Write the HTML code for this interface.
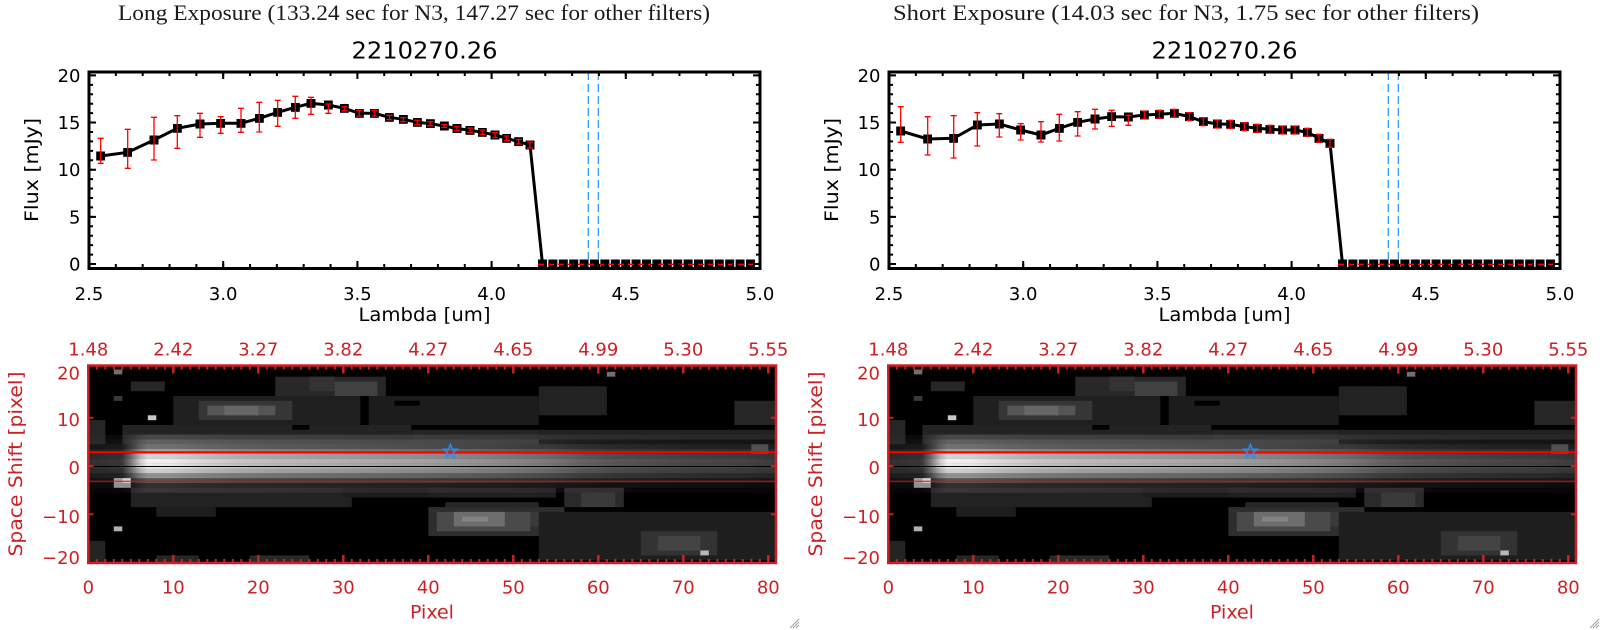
<!DOCTYPE html>
<html><head><meta charset="utf-8"><style>
html,body{margin:0;padding:0;background:#fff;}
svg{display:block;}
</style></head><body>
<svg width="1600" height="630" viewBox="0 0 1600 630" xmlns="http://www.w3.org/2000/svg" font-family="'DejaVu Sans','Liberation Sans',sans-serif">
<defs>
<marker id="sq" viewBox="0 0 9 9" markerWidth="9" markerHeight="9" refX="4.5" refY="4.5" markerUnits="userSpaceOnUse"><rect width="9" height="9" fill="#000"/></marker>
<clipPath id="hc"><rect x="88.3" y="365.5" width="687.7" height="197.5"/></clipPath>
<linearGradient id="cg" gradientUnits="userSpaceOnUse" x1="88.3" y1="0" x2="776.8" y2="0">
<stop offset="0" stop-color="#303030"/><stop offset=".049" stop-color="#383838"/><stop offset=".062" stop-color="#7a7a7a"/><stop offset=".074" stop-color="#c4c4c4"/><stop offset=".086" stop-color="#f2f2f2"/><stop offset=".123" stop-color="#ececec"/><stop offset=".16" stop-color="#dadada"/><stop offset=".21" stop-color="#c8c8c8"/><stop offset=".272" stop-color="#bdbdbd"/><stop offset=".37" stop-color="#b0b0b0"/><stop offset=".494" stop-color="#a0a0a0"/><stop offset=".593" stop-color="#8e8e8e"/><stop offset=".667" stop-color="#7a7a7a"/><stop offset=".716" stop-color="#646464"/><stop offset=".765" stop-color="#575757"/><stop offset=".864" stop-color="#4a4a4a"/><stop offset=".95" stop-color="#444444"/><stop offset="1" stop-color="#3c3c3c"/>
</linearGradient>

<g id="axT">
<g stroke="#000" fill="none">
<line x1="91" y1="265" x2="91" y2="74" stroke-width="4" stroke-dasharray="2 7.43"/>
<line x1="92.5" y1="265" x2="92.5" y2="74" stroke-width="7" stroke-dasharray="2 45.15"/>
<line x1="758" y1="265" x2="758" y2="74" stroke-width="4" stroke-dasharray="2 7.43"/>
<line x1="756.5" y1="265" x2="756.5" y2="74" stroke-width="7" stroke-dasharray="2 45.15"/>
<line x1="88" y1="266" x2="761" y2="266" stroke-width="4" stroke-dasharray="2 24.84"/>
<line x1="88" y1="264.5" x2="761" y2="264.5" stroke-width="7" stroke-dasharray="2 132.2"/>
<line x1="88" y1="74" x2="761" y2="74" stroke-width="4" stroke-dasharray="2 24.84"/>
<line x1="88" y1="75.5" x2="761" y2="75.5" stroke-width="7" stroke-dasharray="2 132.2"/>
<rect x="89" y="72" width="671" height="196.5" stroke-width="3"/>
</g>
</g>

<g id="hm">
<g clip-path="url(#hc)">
<rect x="88" y="365" width="689" height="199" fill="#000"/>
<rect x="122.3" y="425" width="289" height="19.3" fill="#232323"/>
<rect x="411.3" y="429.8" width="127.5" height="14.5" fill="#252525"/>
<rect x="173.3" y="396" width="187" height="29" fill="#1f1f1f"/>
<rect x="368.8" y="396" width="170" height="29" fill="#1c1c1c"/>
<rect x="292.3" y="425" width="17" height="4.83" fill="#000"/>
<rect x="394.3" y="400.8" width="25.5" height="4.83" fill="#000"/>
<rect x="275.3" y="376.7" width="110.5" height="19.3" fill="#282828"/>
<rect x="309.3" y="376.7" width="25.5" height="14.5" fill="#333"/>
<rect x="334.8" y="381.5" width="42.5" height="14.5" fill="#424242"/>
<rect x="198.8" y="400.8" width="93.5" height="19.3" fill="#363636"/>
<rect x="207.3" y="405.6" width="68" height="9.7" fill="#555"/>
<rect x="224.3" y="405.6" width="34" height="9.7" fill="#666"/>
<rect x="130.8" y="381.5" width="34" height="9.7" fill="#262626"/>
<rect x="88.3" y="420.1" width="17" height="24.2" fill="#262626"/>
<rect x="130.8" y="487.8" width="221" height="19.3" fill="#222"/>
<rect x="156.3" y="507.1" width="59.5" height="9.7" fill="#1e1e1e"/>
<rect x="343.3" y="487.8" width="110.5" height="9.7" fill="#1c1c1c"/>
<rect x="428.3" y="487.8" width="127.5" height="9.7" fill="#202020"/>
<rect x="445.3" y="502.2" width="93.5" height="4.9" fill="#262626"/>
<rect x="428.3" y="507.1" width="136" height="29" fill="#2e2e2e"/>
<rect x="521.8" y="511.9" width="51" height="14.5" fill="#3a3a3a"/>
<rect x="436.8" y="511.9" width="93.5" height="19.3" fill="#4a4a4a"/>
<rect x="453.8" y="511.9" width="51" height="14.5" fill="#6e6e6e"/>
<rect x="462.3" y="516.7" width="25.5" height="4.83" fill="#848484"/>
<rect x="564.3" y="487.8" width="59.5" height="19.3" fill="#2a2a2a"/>
<rect x="581.3" y="492.6" width="34" height="14.5" fill="#3a3a3a"/>
<rect x="538.8" y="511.9" width="237.5" height="48.3" fill="#1e1e1e"/>
<rect x="640.8" y="531.2" width="76.5" height="24.2" fill="#333"/>
<rect x="657.8" y="536.1" width="42.5" height="14.5" fill="#444"/>
<rect x="88.3" y="540.9" width="17" height="24" fill="#242424"/>
<rect x="156.3" y="555.4" width="42.5" height="9.7" fill="#262626"/>
<rect x="249.8" y="555.4" width="59.5" height="9.7" fill="#2a2a2a"/>
<rect x="538.8" y="386.3" width="68" height="29" fill="#222"/>
<rect x="734.3" y="400.8" width="42" height="24.2" fill="#262626"/>
<rect x="538.8" y="429.8" width="237.5" height="9.7" fill="#222"/>
<g fill="url(#cg)">
<rect x="88.3" y="434.6" width="688.5" height="4.9" fill-opacity=".18"/>
<rect x="88.3" y="439.5" width="688.5" height="4.9" fill-opacity=".3"/>
<rect x="88.3" y="444.3" width="688.5" height="4.9" fill-opacity=".47"/>
<rect x="88.3" y="449.1" width="688.5" height="4.9" fill-opacity=".68"/>
<rect x="88.3" y="454" width="688.5" height="4.9" fill-opacity=".88"/>
<rect x="88.3" y="458.8" width="688.5" height="4.9"/>
<rect x="88.3" y="463.6" width="688.5" height="4.9" fill-opacity=".97"/>
<rect x="88.3" y="468.4" width="688.5" height="4.9" fill-opacity=".85"/>
<rect x="88.3" y="473.3" width="688.5" height="4.9" fill-opacity=".6"/>
<rect x="88.3" y="478.1" width="688.5" height="4.9" fill-opacity=".35"/>
<rect x="88.3" y="482.9" width="688.5" height="4.9" fill-opacity=".2"/>
<rect x="88.3" y="487.8" width="688.5" height="4.9" fill-opacity=".1"/>
</g>
<rect x="113.8" y="369.5" width="8.5" height="4.9" fill="#707070"/>
<rect x="147.8" y="415.3" width="8.5" height="4.9" fill="#c8c8c8"/>
<rect x="113.8" y="478.1" width="8.5" height="4.9" fill="#a0a0a0"/>
<rect x="122.3" y="478.1" width="8.5" height="4.9" fill="#d0d0d0"/>
<rect x="113.8" y="482.9" width="17" height="4.9" fill="#909090"/>
<rect x="113.8" y="526.4" width="8.5" height="4.9" fill="#b0b0b0"/>
<rect x="606.8" y="371.8" width="8.5" height="4.9" fill="#707070"/>
<rect x="700.3" y="550.5" width="8.5" height="4.9" fill="#b8b8b8"/>
<rect x="113.8" y="396" width="8.5" height="4.9" fill="#3a3a3a"/>
<rect x="751.3" y="444.3" width="17" height="9.7" fill="#505050"/>
<line x1="88" y1="452.3" x2="777" y2="452.3" stroke="#ff0000" stroke-width="2"/>
<line x1="88" y1="466.5" x2="777" y2="466.5" stroke="#000" stroke-width="1"/>
<line x1="88" y1="481.2" x2="777" y2="481.2" stroke="#ff0000" stroke-width="1"/>
<polygon points="450.4,444.5 452.2,449.1 457.1,449.3 453.3,452.4 454.5,457.2 450.4,454.5 446.3,457.2 447.5,452.4 443.7,449.3 448.6,449.1" fill="none" stroke="#1e90ff" stroke-width="1.5"/>
</g>
<g stroke="#cd2026" fill="none">
<line x1="87.3" y1="367.5" x2="777" y2="367.5" stroke-width="4" stroke-dasharray="2 6.5"/>
<line x1="87.05" y1="369.5" x2="777" y2="369.5" stroke-width="8" stroke-dasharray="2.5 82.5"/>
<line x1="87.3" y1="561" x2="777" y2="561" stroke-width="4" stroke-dasharray="2 6.5"/>
<line x1="87.05" y1="559" x2="777" y2="559" stroke-width="8" stroke-dasharray="2.5 82.5"/>
<path d="M88.3 417.7h5M88.3 466h5M88.3 514.3h5M776 417.7h-5M776 466h-5M776 514.3h-5" stroke-width="2"/>
<rect x="88.3" y="365.5" width="687.7" height="197.5" stroke-width="2.5"/>
</g>
</g>

<g id="grip" stroke="#a0a0a0" stroke-width="1">
<path d="M799 619L790 628M799 622L793 628M799 625L796 628"/>
</g>
</defs>

<rect width="1600" height="630" fill="#fff"/>

<!-- ================= LEFT PANEL ================= -->
<g>
<text x="118" y="20" font-family="'Liberation Serif','DejaVu Serif',serif" font-size="22" fill="#1a1a1a" textLength="592" lengthAdjust="spacingAndGlyphs">Long Exposure (133.24 sec for N3, 147.27 sec for other filters)</text>
<text x="424.5" y="58.5" font-size="23.5" text-anchor="middle" textLength="146" lengthAdjust="spacingAndGlyphs">2210270.26</text>

<line x1="538" y1="264" x2="755" y2="264" stroke="#000" stroke-width="9" stroke-dasharray="9 1.4"/>
<polyline points="100.7,156 127.7,152.3 154,140 177.3,128.3 200,124 220.7,123.3 241,123.3 259.3,118.3 277.7,112.3 295.3,107.3 311,103.3 328.3,105 344.3,108.3 359.3,113.3 374.3,113.3 389.3,117.3 403.3,119.3 417.3,122.3 430.3,123.7 444.3,126 457,128.5 470,130.3 482.3,132.3 495,135 506.7,138.3 518.7,141.7 530,145 542.5,264" fill="none" stroke="#000" stroke-width="3" marker-start="url(#sq)" marker-mid="url(#sq)" marker-end="url(#sq)"/>
<path fill="none" stroke="#ff0000" stroke-width="1.3" d="M100.7 138.3V163.3M97.7 138.3h6M97.7 163.3h6M127.7 129.3V168.3M124.7 129.3h6M124.7 168.3h6M154 117.3V160M151 117.3h6M151 160h6M177.3 115.7V148.3M174.3 115.7h6M174.3 148.3h6M200 113.3V137.3M197 113.3h6M197 137.3h6M220.7 116.7V133.3M217.7 116.7h6M217.7 133.3h6M241 108.3V132.3M238 108.3h6M238 132.3h6M259.3 102.3V132M256.3 102.3h6M256.3 132h6M277.7 100.3V126.3M274.7 100.3h6M274.7 126.3h6M295.3 96.3V118.3M292.3 96.3h6M292.3 118.3h6M311 97.3V114.3M308 97.3h6M308 114.3h6M328.3 104V113.3M325.3 104h6M325.3 113.3h6M344.3 106.7V110.7M341.3 106.7h6M341.3 110.7h6M359.3 110.3V116M356.3 110.3h6M356.3 116h6M374.3 110.3V116M371.3 110.3h6M371.3 116h6M389.3 115.3V119.7M386.3 115.3h6M386.3 119.7h6M403.3 117.7V121.7M400.3 117.7h6M400.3 121.7h6M417.3 120.3V124.7M414.3 120.3h6M414.3 124.7h6M430.3 121.7V125.7M427.3 121.7h6M427.3 125.7h6M444.3 124.5V127.5M441.3 124.5h6M441.3 127.5h6M457 126.5V130.5M454 126.5h6M454 130.5h6M470 128V132.5M467 128h6M467 132.5h6M482.3 130V134.5M479.3 130h6M479.3 134.5h6M495 132.5V137.5M492 132.5h6M492 137.5h6M506.7 136V140.5M503.7 136h6M503.7 140.5h6M518.7 139.5V144M515.7 139.5h6M515.7 144h6M530 142V148M527 142h6M527 148h6"/>
<path d="M588.3 72V268M598.3 72V268" stroke="#1e90ff" stroke-width="1.2" stroke-dasharray="8 4" fill="none"/>
<line x1="538" y1="264.3" x2="759" y2="264.3" stroke="#ff0000" stroke-width="1.3" stroke-dasharray="6 4"/>
<use href="#axT"/>

<g font-size="18" fill="#000">
<g text-anchor="end">
<text x="80.5" y="82">20</text><text x="80.5" y="129">15</text><text x="80.5" y="176.2">10</text><text x="80.5" y="223.4">5</text><text x="80.5" y="270.5">0</text>
</g>
<g text-anchor="middle">
<text x="89" y="300">2.5</text><text x="223.2" y="300">3.0</text><text x="357.4" y="300">3.5</text><text x="491.6" y="300">4.0</text><text x="625.8" y="300">4.5</text><text x="760" y="300">5.0</text>
</g>
</g>
<text x="424.5" y="321" font-size="19" text-anchor="middle" textLength="132" lengthAdjust="spacingAndGlyphs">Lambda [um]</text>
<text transform="translate(38,170) rotate(-90)" font-size="19" text-anchor="middle" textLength="104" lengthAdjust="spacingAndGlyphs">Flux [mJy]</text>

<use href="#hm"/>
<g font-size="18" fill="#cd2026" text-anchor="middle">
<text x="88.3" y="355.5">1.48</text><text x="173.3" y="355.5">2.42</text><text x="258.3" y="355.5">3.27</text><text x="343.3" y="355.5">3.82</text><text x="428.3" y="355.5">4.27</text><text x="513.3" y="355.5">4.65</text><text x="598.3" y="355.5">4.99</text><text x="683.3" y="355.5">5.30</text><text x="768.3" y="355.5">5.55</text>
<text x="88.3" y="593.5">0</text><text x="173.3" y="593.5">10</text><text x="258.3" y="593.5">20</text><text x="343.3" y="593.5">30</text><text x="428.3" y="593.5">40</text><text x="513.3" y="593.5">50</text><text x="598.3" y="593.5">60</text><text x="683.3" y="593.5">70</text><text x="768.3" y="593.5">80</text>
</g>
<g font-size="18" fill="#cd2026" text-anchor="end">
<text x="80" y="379.5">20</text><text x="80" y="425.8">10</text><text x="80" y="474">0</text><text x="80" y="523">−10</text><text x="80" y="564">−20</text>
</g>
<text x="432" y="618.5" font-size="19" fill="#cd2026" text-anchor="middle">Pixel</text>
<text transform="translate(22,464) rotate(-90)" font-size="19" fill="#cd2026" text-anchor="middle" textLength="185" lengthAdjust="spacingAndGlyphs">Space Shift [pixel]</text>
<use href="#grip"/>
</g>

<!-- ================= RIGHT PANEL ================= -->
<g transform="translate(800,0)">
<text x="93" y="20" font-family="'Liberation Serif','DejaVu Serif',serif" font-size="22" fill="#1a1a1a" textLength="586" lengthAdjust="spacingAndGlyphs">Short Exposure (14.03 sec for N3, 1.75 sec for other filters)</text>
<text x="424.5" y="58.5" font-size="23.5" text-anchor="middle" textLength="146" lengthAdjust="spacingAndGlyphs">2210270.26</text>

<line x1="538" y1="264" x2="755" y2="264" stroke="#000" stroke-width="9" stroke-dasharray="9 1.4"/>
<polyline points="100.7,131 127.7,139 153.7,138.3 177.3,125 199.3,124 220.7,130 241,135 259.3,128.3 277.7,122.3 295,119 311.7,116.7 328.3,117 344.3,115 359.3,114.3 374.3,113.3 389.3,116.7 403.3,121.7 417.3,124 430.7,124.3 444.3,126.7 457.3,128.3 470,129.3 482.7,130 495,130 507.3,132.3 519,138.3 530,143.3 542.5,264" fill="none" stroke="#000" stroke-width="3" marker-start="url(#sq)" marker-mid="url(#sq)" marker-end="url(#sq)"/>
<path fill="none" stroke="#ff0000" stroke-width="1.3" d="M100.7 106.7V142.3M97.7 106.7h6M97.7 142.3h6M127.7 116.7V155M124.7 116.7h6M124.7 155h6M153.7 115.7V158M150.7 115.7h6M150.7 158h6M177.3 112.7V146M174.3 112.7h6M174.3 146h6M199.3 113.7V137M196.3 113.7h6M196.3 137h6M220.7 123.7V140M217.7 123.7h6M217.7 140h6M241 121.7V142M238 121.7h6M238 142h6M259.3 114.3V141M256.3 114.3h6M256.3 141h6M277.7 111.7V136M274.7 111.7h6M274.7 136h6M295 109.3V129M292 109.3h6M292 129h6M311.7 110.3V126.3M308.7 110.3h6M308.7 126.3h6M328.3 115.3V125.3M325.3 115.3h6M325.3 125.3h6M344.3 111V119M341.3 111h6M341.3 119h6M359.3 110.3V118.3M356.3 110.3h6M356.3 118.3h6M374.3 109.3V117.3M371.3 109.3h6M371.3 117.3h6M389.3 112.7V120.7M386.3 112.7h6M386.3 120.7h6M403.3 117.7V125.7M400.3 117.7h6M400.3 125.7h6M417.3 120V128M414.3 120h6M414.3 128h6M430.7 120.3V128.3M427.7 120.3h6M427.7 128.3h6M444.3 122.7V130.7M441.3 122.7h6M441.3 130.7h6M457.3 124.3V132.3M454.3 124.3h6M454.3 132.3h6M470 125.3V133.3M467 125.3h6M467 133.3h6M482.7 126V134M479.7 126h6M479.7 134h6M495 126V134M492 126h6M492 134h6M507.3 128.3V136.3M504.3 128.3h6M504.3 136.3h6M519 134.3V142.3M516 134.3h6M516 142.3h6M530 139.3V147.3M527 139.3h6M527 147.3h6"/>
<path d="M588.3 72V268M598.3 72V268" stroke="#1e90ff" stroke-width="1.2" stroke-dasharray="8 4" fill="none"/>
<line x1="538" y1="264.3" x2="759" y2="264.3" stroke="#ff0000" stroke-width="1.3" stroke-dasharray="6 4"/>
<use href="#axT"/>

<g font-size="18" fill="#000">
<g text-anchor="end">
<text x="80.5" y="82">20</text><text x="80.5" y="129">15</text><text x="80.5" y="176.2">10</text><text x="80.5" y="223.4">5</text><text x="80.5" y="270.5">0</text>
</g>
<g text-anchor="middle">
<text x="89" y="300">2.5</text><text x="223.2" y="300">3.0</text><text x="357.4" y="300">3.5</text><text x="491.6" y="300">4.0</text><text x="625.8" y="300">4.5</text><text x="760" y="300">5.0</text>
</g>
</g>
<text x="424.5" y="321" font-size="19" text-anchor="middle" textLength="132" lengthAdjust="spacingAndGlyphs">Lambda [um]</text>
<text transform="translate(38,170) rotate(-90)" font-size="19" text-anchor="middle" textLength="104" lengthAdjust="spacingAndGlyphs">Flux [mJy]</text>

<use href="#hm"/>
<g font-size="18" fill="#cd2026" text-anchor="middle">
<text x="88.3" y="355.5">1.48</text><text x="173.3" y="355.5">2.42</text><text x="258.3" y="355.5">3.27</text><text x="343.3" y="355.5">3.82</text><text x="428.3" y="355.5">4.27</text><text x="513.3" y="355.5">4.65</text><text x="598.3" y="355.5">4.99</text><text x="683.3" y="355.5">5.30</text><text x="768.3" y="355.5">5.55</text>
<text x="88.3" y="593.5">0</text><text x="173.3" y="593.5">10</text><text x="258.3" y="593.5">20</text><text x="343.3" y="593.5">30</text><text x="428.3" y="593.5">40</text><text x="513.3" y="593.5">50</text><text x="598.3" y="593.5">60</text><text x="683.3" y="593.5">70</text><text x="768.3" y="593.5">80</text>
</g>
<g font-size="18" fill="#cd2026" text-anchor="end">
<text x="80" y="379.5">20</text><text x="80" y="425.8">10</text><text x="80" y="474">0</text><text x="80" y="523">−10</text><text x="80" y="564">−20</text>
</g>
<text x="432" y="618.5" font-size="19" fill="#cd2026" text-anchor="middle">Pixel</text>
<text transform="translate(22,464) rotate(-90)" font-size="19" fill="#cd2026" text-anchor="middle" textLength="185" lengthAdjust="spacingAndGlyphs">Space Shift [pixel]</text>
<use href="#grip"/>
</g>
</svg>
</body></html>
